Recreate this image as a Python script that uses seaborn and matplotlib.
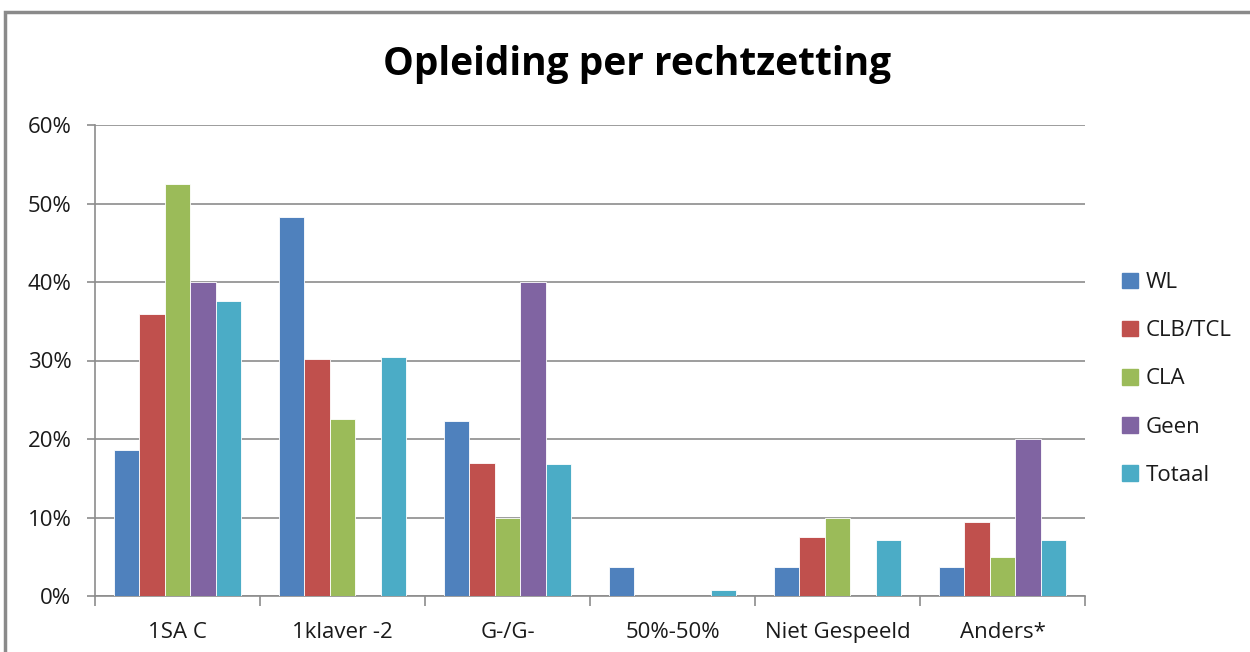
import numpy as np
import pandas as pd
import matplotlib.pyplot as plt
import seaborn as sns
from matplotlib.patches import Rectangle
from matplotlib.ticker import PercentFormatter, FixedLocator

# categories and series (values in %)
categories = ['1SA C', '1klaver -2', 'G-/G-', '50%-50%', 'Niet Gespeeld', 'Anders*']
series = ['WL', 'CLB/TCL', 'CLA', 'Geen', 'Totaal']
wl = [18.6, 48.3, 22.3, 3.7, 3.7, 3.7]
clb = [35.9, 30.2, 16.9, 0.0, 7.5, 9.4]
cla = [52.5, 22.5, 10.0, 0.0, 10.0, 5.0]
geen = [40.0, 0.0, 40.0, 0.0, 0.0, 20.0]
totaal = [37.6, 30.5, 16.8, 0.8, 7.1, 7.1]
colors = ['#4F81BD', '#C0504D', '#9BBB59', '#8064A2', '#4BACC6']

rows = []
for name, vals in zip(series, [wl, clb, cla, geen, totaal]):
    for cat, v in zip(categories, vals):
        rows.append({'cat': cat, 'serie': name, 'val': v})
data = pd.DataFrame(rows)

sns.set_style('white')
plt.rcParams['font.family'] = ['Open Sans', 'DejaVu Sans']
plt.rcParams['text.color'] = '#1a1a1a'
plt.rcParams['xtick.labelcolor'] = '#1a1a1a'
plt.rcParams['ytick.labelcolor'] = '#1a1a1a'

fig = plt.figure(figsize=(12.5, 6.52), dpi=100)
ax = fig.add_axes([95 / 1250, 1 - 596 / 652, 990 / 1250, 471 / 652])

sns.barplot(data=data, x='cat', y='val', hue='serie', palette=colors,
            width=0.77, gap=0, saturation=1, ax=ax, legend=False,
            edgecolor='white', linewidth=0.6, zorder=3)

ax.set_xlim(-0.5, 5.5)
ax.set_ylim(0, 60)
ax.set_yticks(np.arange(0, 61, 10))
ax.yaxis.set_major_formatter(PercentFormatter(decimals=0))
ax.grid(axis='y', color='#8c8c8c', linewidth=1.2, zorder=0)
ax.set_xlabel('')
ax.set_ylabel('')

for s in ['top', 'right']:
    ax.spines[s].set_visible(False)
for s in ['left', 'bottom']:
    ax.spines[s].set_color('#8c8c8c')
    ax.spines[s].set_linewidth(1.2)

ax.xaxis.set_minor_locator(FixedLocator(np.arange(-0.5, 6, 1)))
ax.tick_params(axis='x', which='major', length=0, pad=19, labelsize=16)
ax.tick_params(axis='x', which='minor', length=7, color='#8c8c8c', width=1.2, direction='out')
ax.tick_params(axis='y', length=6, color='#8c8c8c', width=1.2, direction='out',
               pad=11, labelsize=16)
ax.tick_params(left=True, bottom=True, which='both')

fig.text(637 / 1250, 1 - 65 / 652, 'Opleiding per rechtzetting',
         ha='center', va='center', fontsize=28, fontweight='bold', color='black')

handles = [Rectangle((0, 0), 1, 1, color=c) for c in colors]
fig.legend(handles, series, loc='center left', bbox_to_anchor=(1102 / 1250, 1 - 379 / 652),
           frameon=False, fontsize=16, handlelength=0.7, handleheight=0.7,
           handletextpad=0.35, labelspacing=1.22)

# outer chart frame (clipped on right and bottom)
fig.patches.append(Rectangle((5 / 1250, -0.1), 1.2, 1 - 12 / 652 + 0.1,
                             transform=fig.transFigure, fill=False,
                             edgecolor='#8a8a8a', linewidth=2.5))

fig.savefig('out.png', dpi=100)
